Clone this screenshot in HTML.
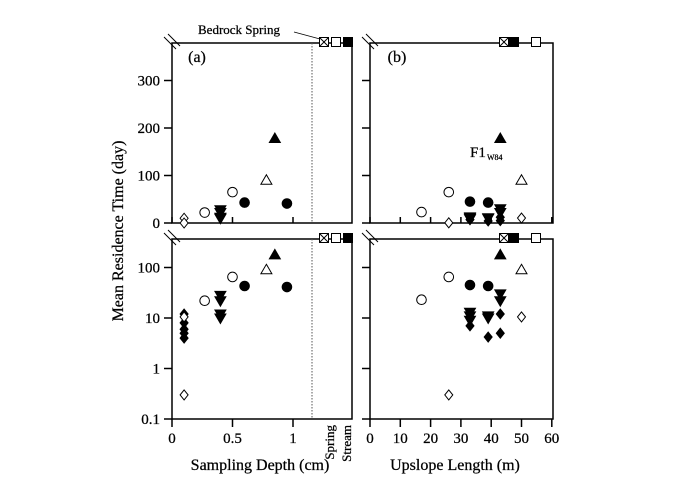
<!DOCTYPE html>
<html><head><meta charset="utf-8">
<style>
html,body{margin:0;padding:0;background:#fff;}
svg{display:block;font-family:"Liberation Serif",serif;}
text{fill:#000;stroke:#000;stroke-width:0.25;}
</style></head>
<body>
<svg id="chart" width="700" height="488" viewBox="0 0 700 488">
<g id="frames" fill="none" stroke="#000" stroke-width="1.5"></g>
<g id="marks"></g>
<g id="texts"></g>
</svg>
<script>
// Panel (a): sampling depth (cm)
const aDiamondOpenX=[0.1,0.1], aDiamondOpenLin=[10,0], aDiamondOpenLog=[10.5,0.3];
const aDiamondFillX=[0.1,0.1,0.1,0.1,0.1], aDiamondFillLin=[12,8,6,5,4], aDiamondFillLog=[12,8,6,5,4];
const aCircleOpenX=[0.27,0.5], aCircleOpenVal=[22,65];
const aTriDownX=[0.4,0.4,0.4,0.4], aTriDownVal=[28,22,12,10];
const aCircleFillX=[0.6,0.95], aCircleFillVal=[43,41];
const aTriOpenX=[0.78], aTriOpenVal=[90];
const aTriFillX=[0.85], aTriFillVal=[178];
// Panel (b): upslope length (m)
const bCircleOpenX=[17,26], bCircleOpenVal=[23,65];
const bDiamondOpenX=[26,50], bDiamondOpenVal=[0.3,10.5];
const bCircleFillX=[33,39], bCircleFillVal=[45,43];
const bTriDownX=[33,33,33,39,39,43,43], bTriDownVal=[13,11,9,11,10,30,22];
const bDiamondFillX=[33,39,43,43], bDiamondFillVal=[7,4.2,12,5];
const bTriFillX=[43], bTriFillVal=[178];
const bTriOpenX=[50], bTriOpenVal=[90];
const linTicks=[0,100,200,300], logTicks=[0.1,1,10,100];
const aTicks=[0,0.5,1], aTickLabels=["0","0.5","1"];
const bTicks=[0,10,20,30,40,50,60];

const NS="http://www.w3.org/2000/svg";
const frames=document.getElementById('frames'), marks=document.getElementById('marks'), texts=document.getElementById('texts');
function el(tag,attrs,parent){const e=document.createElementNS(NS,tag);for(const k in attrs)e.setAttribute(k,attrs[k]);parent.appendChild(e);return e;}

const xa=v=>172+v*121;
const xb=v=>370+v*3.03;
const yLin=v=>223-v*0.475;
const yLog=v=>419-(Math.log10(v)+1)*50.5;

const panels=[[172,43,352,223,'panel-a-linear'],[172,239,352,419,'panel-a-log'],[370,43,553,223,'panel-b-linear'],[370,239,553,419,'panel-b-log']];
panels.forEach(p=>{
  const r=el('rect',{x:p[0],y:p[1],width:p[2]-p[0],height:p[3]-p[1]},frames);
  
  
  el('line',{x1:p[0]-8,y1:p[1]-6,x2:p[0]+4,y2:p[1]+6,stroke:'#000','stroke-width':1},frames);
  el('line',{x1:p[0]-4,y1:p[1]-9,x2:p[0]+8,y2:p[1]+3,stroke:'#000','stroke-width':1},frames);
});
[[43,223],[239,419]].forEach(r=>el('line',{x1:312,y1:r[0],x2:312,y2:r[1],stroke:'#555','stroke-width':1,'stroke-dasharray':'1.5,1.5'},frames));

function txt(x,y,s,size,anchor,name,extra){const t=el('text',Object.assign({x:x,y:y,'font-size':size,'text-anchor':anchor||'middle'},extra||{}),texts);t.textContent=s;return t;}

linTicks.forEach(v=>{const y=yLin(v);
  el('line',{x1:164,y1:y,x2:172,y2:y},frames);el('line',{x1:362,y1:y,x2:370,y2:y},frames);
  txt(160,y+5,String(v),15,'end','y-tick-label-linear');});
logTicks.forEach(v=>{const y=yLog(v);
  el('line',{x1:164,y1:y,x2:172,y2:y},frames);el('line',{x1:362,y1:y,x2:370,y2:y},frames);
  txt(160,y+5,String(v),15,'end','y-tick-label-log');});
aTicks.forEach((v,i)=>{const x=xa(v);
  el('line',{x1:x,y1:223,x2:x,y2:217},frames);el('line',{x1:x,y1:419,x2:x,y2:427},frames);
  txt(x,443,aTickLabels[i],15,'middle','x-tick-label-depth');});
bTicks.forEach(v=>{const x=xb(v);
  el('line',{x1:x,y1:223,x2:x,y2:217},frames);el('line',{x1:x,y1:419,x2:x,y2:427},frames);
  txt(x,443,String(v),15,'middle','x-tick-label-length');});

function mk(type,x,y,name){
  const g=el('g',{},marks);
  
  
  const s=4.5;
  const fill=type.endsWith('F')?'#000':'#fff';
  const a={fill:fill,stroke:'#000','stroke-width':1};
  if(type.startsWith('circ')) el('circle',Object.assign({cx:x,cy:y,r:4.8},a),g);
  else if(type.startsWith('dia')) el('polygon',Object.assign({points:`${x},${y-5} ${x+4},${y} ${x},${y+5} ${x-4},${y}`},a),g);
  else if(type.startsWith('triU')) el('polygon',Object.assign({points:`${x},${y-5.5} ${x+5.5},${y+4} ${x-5.5},${y+4}`},a),g);
  else if(type.startsWith('triD')) el('polygon',Object.assign({points:`${x},${y+5.5} ${x+5.5},${y-4} ${x-5.5},${y-4}`},a),g);
  else if(type.startsWith('sq')) el('rect',Object.assign({x:x-s,y:y-s,width:2*s,height:2*s},a),g);
  if(type==='sqX'){el('line',{x1:x-s,y1:y-s,x2:x+s,y2:y+s,stroke:'#000'},g);el('line',{x1:x+s,y1:y-s,x2:x-s,y2:y+s,stroke:'#000'},g);}
}
function series(xs,vs,xf,yf,type,name){xs.forEach((x,i)=>mk(type,xf(x),yf(vs[i]),name));}
series(aDiamondOpenX,aDiamondOpenLin,xa,yLin,'diaO','a-open-diamond');
series(aCircleOpenX,aCircleOpenVal,xa,yLin,'circO','a-open-circle');
series(aTriDownX,aTriDownVal,xa,yLin,'triDF','a-down-triangle');
series(aCircleFillX,aCircleFillVal,xa,yLin,'circF','a-filled-circle');
series(aTriOpenX,aTriOpenVal,xa,yLin,'triUO','a-open-triangle');
series(aTriFillX,aTriFillVal,xa,yLin,'triUF','a-filled-triangle');
series(aDiamondFillX,aDiamondFillLog,xa,yLog,'diaF','a-filled-diamond-log');
series(aDiamondOpenX,aDiamondOpenLog,xa,yLog,'diaO','a-open-diamond-log');
series(aCircleOpenX,aCircleOpenVal,xa,yLog,'circO','a-open-circle-log');
series(aTriDownX,aTriDownVal,xa,yLog,'triDF','a-down-triangle-log');
series(aCircleFillX,aCircleFillVal,xa,yLog,'circF','a-filled-circle-log');
series(aTriOpenX,aTriOpenVal,xa,yLog,'triUO','a-open-triangle-log');
series(aTriFillX,aTriFillVal,xa,yLog,'triUF','a-filled-triangle-log');
[[yLin,'lin'],[yLog,'log']].forEach(([yf,t])=>{
  series(bCircleOpenX,bCircleOpenVal,xb,yf,'circO','b-open-circle-'+t);
  series(bDiamondOpenX,bDiamondOpenVal,xb,yf,'diaO','b-open-diamond-'+t);
  series(bCircleFillX,bCircleFillVal,xb,yf,'circF','b-filled-circle-'+t);
  series(bTriDownX,bTriDownVal,xb,yf,'triDF','b-down-triangle-'+t);
  series(bDiamondFillX,bDiamondFillVal,xb,yf,'diaF','b-filled-diamond-'+t);
  series(bTriFillX,bTriFillVal,xb,yf,'triUF','b-filled-triangle-'+t);
  series(bTriOpenX,bTriOpenVal,xb,yf,'triUO','b-open-triangle-'+t);
});
[42,238].forEach(y=>{
  mk('sqX',324,y,'a-bedrock-spring-marker');mk('sqO',336,y,'a-spring-marker');mk('sqF',348,y,'a-stream-marker');
  mk('sqX',504,y,'b-bedrock-spring-marker');mk('sqF',514,y,'b-stream-marker');mk('sqO',536,y,'b-spring-marker');
});
el('line',{x1:294,y1:32,x2:320,y2:39,stroke:'#000','stroke-width':0.8},frames);

txt(239,34,'Bedrock Spring',13,'middle','bedrock-spring-label');
txt(197,62,'(a)',16,'middle','panel-a-label');
txt(397,62,'(b)',16,'middle','panel-b-label');
txt(470,157,'F1',15,'start','f1-w84-label');
txt(487,160,'W84',8,'start','f1-subscript');
txt(260,470,'Sampling Depth (cm)',16,'middle','x-axis-title-depth');
txt(455,470,'Upslope Length (m)',16,'middle','x-axis-title-length');
txt(0,0,'Mean Residence Time (day)',16,'middle','y-axis-title',{transform:'translate(123,231) rotate(-90)'});
txt(0,0,'Spring',13,'end','spring-label',{transform:'translate(334,425) rotate(-90)'});
txt(0,0,'Stream',13,'end','stream-label',{transform:'translate(351,425) rotate(-90)'});
</script>
</body></html>
